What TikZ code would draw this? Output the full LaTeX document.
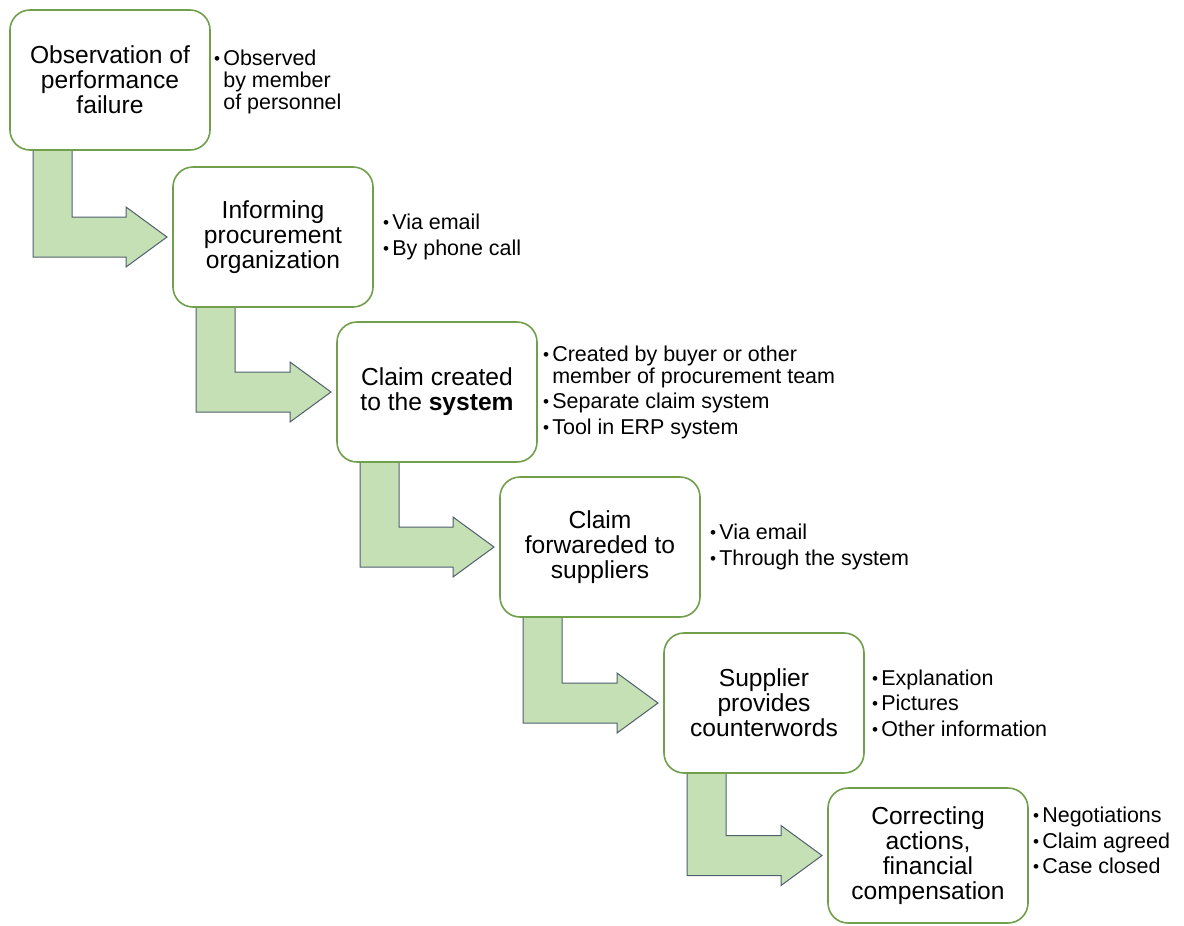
\documentclass[tikz,border=0pt]{standalone}
\usepackage{fontspec}
\setmainfont{Liberation Sans}
\usetikzlibrary{calc,backgrounds}
\definecolor{boxgreen}{RGB}{112,160,75}
\definecolor{arrfill}{RGB}{197,224,180}
\definecolor{arredge}{RGB}{80,95,110}
\newcommand{\bul}{\makebox[7pt][l]{\raisebox{0.04em}{\scalebox{0.8}{\textbullet}}}}
\newcommand{\nob}{\hspace*{7pt}}
\newcommand{\flowarrow}[2]{%
  \coordinate (s1) at ($(#1.south west)+(23,0)$);
  \coordinate (s2) at ($(#1.south west)+(62,0)$);
  \coordinate (hb) at ($(#2.west)+(-47,0)$);
  \coordinate (tp) at ($(#2.west)+(-6,0)$);
  \coordinate (bu) at ($(#2.west)+(0,-20)$);
  \coordinate (bl) at ($(#2.west)+(0,20)$);
  \coordinate (hu) at ($(#2.west)+(0,-30)$);
  \coordinate (hl) at ($(#2.west)+(0,30)$);
  \draw[flowarr] (s1) -- (s2) -- (s2 |- bu) -- (hb |- bu) -- (hb |- hu) -- (tp)
    -- (hb |- hl) -- (hb |- bl) -- (s1 |- bl) -- cycle;}
\begin{document}
\begin{tikzpicture}[x=0.75pt,y=-0.75pt,
  procbox/.style={draw=boxgreen, line width=1.2pt, fill=white, rounded corners=15pt,
    minimum width=150pt, minimum height=105pt, inner sep=0pt, outer sep=0pt,
    align=center, font=\fontsize{18.45}{18.75}\selectfont},
  notes/.style={anchor=west, inner sep=0pt, outer sep=0pt, align=left,
    font=\fontsize{16.1}{16.5}\selectfont},
  flowarr/.style={draw=arredge, line width=0.75pt, fill=arrfill, line join=miter}]
\useasboundingbox (0,0) rectangle (1184,925);

\node[procbox] (b1) at (110,80) {Observation of\\performance\\failure};
\node[procbox] (b2) at (273,237) {Informing\\procurement\\organization};
\node[procbox] (b3) at (437,392) {Claim created\\to the \textbf{system}};
\node[procbox] (b4) at (600,547) {Claim\\forwareded to\\suppliers};
\node[procbox] (b5) at (764,703) {Supplier\\provides\\counterwords};
\node[procbox, minimum height=101.25pt] (b6) at (928,855.5) {Correcting\\actions,\\financial\\compensation};

\node[notes] (n1) at ($(b1.east)+(4,2)$) {\bul Observed\\ \nob by member\\ \nob of personnel};
\node[notes] (n2) at ($(b2.east)+(10,0)$) {\bul Via email\\[2.6pt] \bul By phone call};
\node[notes] (n3) at ($(b3.east)+(6,0)$) {\bul Created by buyer or other\\ \nob member of procurement team\\[2.6pt] \bul Separate claim system\\[2.6pt] \bul Tool in ERP system};
\node[notes] (n4) at ($(b4.east)+(10,0)$) {\bul Via email\\[2.6pt] \bul Through the system};
\node[notes] (n5) at ($(b5.east)+(8,0)$) {\bul Explanation\\[2.6pt] \bul Pictures\\[2.6pt] \bul Other information};
\node[notes] (n6) at ($(b6.east)+(5,-15)$) {\bul Negotiations\\[2.6pt] \bul Claim agreed\\[2.6pt] \bul Case closed};

\begin{scope}[on background layer]
\flowarrow{b1}{b2}
\flowarrow{b2}{b3}
\flowarrow{b3}{b4}
\flowarrow{b4}{b5}
\flowarrow{b5}{b6}
\end{scope}
\end{tikzpicture}
\end{document}
